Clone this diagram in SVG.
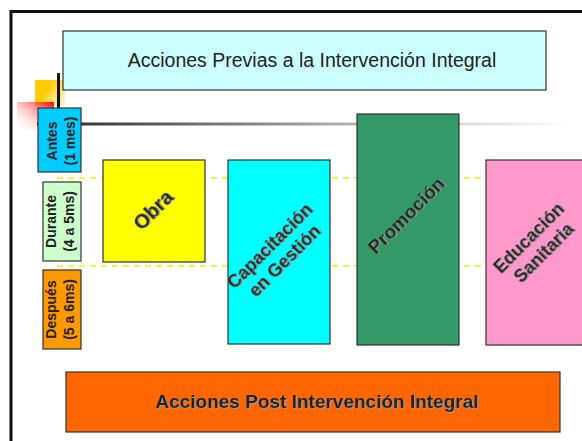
<svg xmlns="http://www.w3.org/2000/svg" width="582" height="441" viewBox="0 0 582 441">
<defs>
<linearGradient id="gLine" x1="0" y1="0" x2="1" y2="0"><stop offset="0" stop-color="#222"/><stop offset="0.55" stop-color="#aaa"/><stop offset="1" stop-color="#fff"/></linearGradient>
<linearGradient id="gOr" x1="0" y1="0" x2="1" y2="0.6"><stop offset="0.45" stop-color="#FFCC00"/><stop offset="1" stop-color="#FFF0C0"/></linearGradient>
<linearGradient id="gRed" x1="1" y1="0" x2="0" y2="1"><stop offset="0" stop-color="#FF0000"/><stop offset="1" stop-color="#fff" stop-opacity="0"/></linearGradient>
<linearGradient id="gBlue" x1="0" y1="0" x2="1" y2="0"><stop offset="0" stop-color="#2222DD"/><stop offset="1" stop-color="#fff" stop-opacity="0"/></linearGradient>
<filter id="sh" x="-20%" y="-20%" width="140%" height="140%"><feDropShadow dx="1" dy="1" stdDeviation="0.3" flood-color="#999"/></filter>
</defs>
<style>
.box{stroke:#333;stroke-width:1.2}
.t{font-family:"Liberation Sans",Arial,sans-serif;fill:#222;text-anchor:middle}
.b{font-weight:bold}
.dash{stroke:#FFEE00;stroke-width:1.5;stroke-dasharray:6,5}
</style>
<rect width="582" height="441" fill="#fff"/>
<g id="frame">
<path d="M11,441 V11.5 H582" fill="none" stroke="#111" stroke-width="3"/>
</g>
<g id="decor">
<rect x="35" y="80" width="30" height="26" fill="url(#gOr)"/>
<rect x="17" y="102" width="37" height="28" fill="url(#gRed)"/>
<rect x="54" y="108" width="36" height="30" fill="url(#gBlue)"/>
<line x1="58.5" y1="73" x2="58.5" y2="110" stroke="#111" stroke-width="3"/>
</g>
<g id="connectors">
<rect x="37" y="122.5" width="530" height="3" fill="url(#gLine)"/>
<line class="dash" x1="57" y1="178" x2="582" y2="178"/>
<line class="dash" x1="57" y1="266" x2="582" y2="266"/>
</g>
<g id="previas">
<rect class="box" x="63" y="31" width="483" height="59" fill="#CCFFFF"/>
<text class="t" x="312" y="67" font-size="19.5">Acciones Previas a la Intervención Integral</text>
</g>
<g id="antes">
<rect class="box" x="38" y="108" width="43" height="64" fill="#00CCFF"/>
<text class="t b" font-size="14" transform="translate(59.5,141) rotate(-90)"><tspan x="0" y="-2.5">Antes</tspan><tspan x="0" y="15.5">(1 mes)</tspan></text>
</g>
<g id="durante">
<rect class="box" x="43" y="182" width="38" height="79" fill="#CCFFCC"/>
<text class="t b" font-size="14" transform="translate(62,221.5) rotate(-90)"><tspan x="0" y="-6">Durante</tspan><tspan x="0" y="12">(4 a 5ms)</tspan></text>
</g>
<g id="despues">
<rect class="box" x="43" y="270" width="38" height="79" fill="#FF9900"/>
<text class="t b" font-size="14" transform="translate(62,309.5) rotate(-90)"><tspan x="0" y="-6">Después</tspan><tspan x="0" y="12">(5 a 6ms)</tspan></text>
</g>
<g id="obra">
<rect class="box" x="103" y="160" width="102" height="102" fill="#FFFF00"/>
<text class="t b" font-size="20" filter="url(#sh)" transform="translate(153,210) rotate(-45)" y="7">Obra</text>
</g>
<g id="capacitacion">
<rect class="box" x="228" y="160" width="102" height="184" fill="#00FFFF"/>
<text class="t b" font-size="18" filter="url(#sh)" transform="translate(277,253) rotate(-45)"><tspan x="0" y="-4">Capacitación</tspan><tspan x="0" y="17">en Gestión</tspan></text>
</g>
<g id="promocion">
<rect class="box" x="357" y="114" width="102" height="231" fill="#339966"/>
<text class="t b" font-size="19" filter="url(#sh)" transform="translate(406,215) rotate(-45)" y="7">Promoción</text>
</g>
<g id="educacion">
<rect class="box" x="486" y="160" width="102" height="185" fill="#FF99CC"/>
<text class="t b" font-size="18" filter="url(#sh)" transform="translate(536,245) rotate(-45)"><tspan x="0" y="-4">Educación</tspan><tspan x="0" y="17">Sanitaria</tspan></text>
</g>
<g id="post">
<rect class="box" x="66" y="372" width="494" height="60" fill="#FF6600"/>
<text class="t b" font-size="19" filter="url(#sh)" x="317" y="408">Acciones Post Intervención Integral</text>
</g>
</svg>
